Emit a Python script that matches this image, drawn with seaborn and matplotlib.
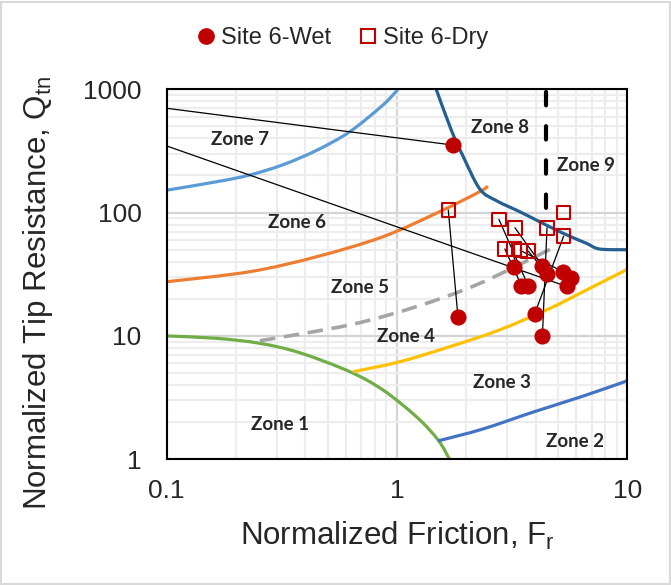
import numpy as np
import pandas as pd
import matplotlib
matplotlib.use("Agg")
import matplotlib.pyplot as plt
from matplotlib.patches import Rectangle, PathPatch
from matplotlib.path import Path
from matplotlib.lines import Line2D
from matplotlib.ticker import FixedLocator, NullFormatter, LogLocator
import seaborn as sns

# ---- measured points (normalized friction Fr [%], normalized tip resistance Qtn) ----
wet_fr = [1.75, 1.84, 3.22, 3.47, 3.71, 4.28, 4.49, 5.26, 5.70, 5.45, 3.96, 4.28]
wet_qtn = [353, 14.2, 36.4, 25.6, 25.6, 36.9, 31.8, 33.2, 29.3, 25.2, 15.1, 10.0]

dry_fr = [0.05, 1.67, 3.22, 2.94, 2.77, 3.25, 3.71, 3.43, 5.29, 0.05, 5.29, 4.48]
dry_qtn = [828, 105, 50.7, 50.7, 88.2, 75.4, 48.8, 49.3, 100.6, 547, 64.3, 75.4]

# wet/dry index pairs joined by a thin line
pair_links = [(0, 0), (1, 1), (2, 2), (3, 3), (4, 4), (5, 5),
              (6, 6), (7, 7), (9, 9), (10, 10), (11, 11)]

# ---- soil behaviour type zone boundaries ----
b7_fr = [0.1, 0.165, 0.23, 0.321, 0.448, 0.624, 0.87, 1.01]
b7_q = [152, 178, 202, 245, 320, 453, 747, 1000]

b6_fr = [0.1, 0.23, 0.448, 0.87, 1.53, 2.29, 2.48]
b6_q = [27.5, 33.2, 43.9, 63.8, 101.7, 148, 164]

b8_fr = [1.48, 1.72, 1.94, 2.29, 2.7, 3.41, 4.16, 5.26, 6.64, 7.58, 10]
b8_q = [1000, 468, 284, 155, 125, 101.7, 84.4, 68, 56.4, 50.7, 50]

b1_fr = [0.1, 0.165, 0.254, 0.379, 0.624, 0.87, 1.215, 1.51, 1.69]
b1_q = [10, 9.56, 8.71, 7.3, 5.13, 3.64, 2.21, 1.43, 1.0]

b3_fr = [0.645, 1.03, 1.69, 2.79, 4.6, 6.42, 10]
b3_q = [5.13, 6.18, 8.17, 11.2, 16.7, 22.8, 34.7]

b2_fr = [1.51, 2.36, 3.89, 6.42, 10]
b2_q = [1.41, 1.76, 2.41, 3.25, 4.33]

b45_fr = [0.254, 0.624, 1.215, 2.29, 4.74]
b45_q = [9.14, 12.3, 17.3, 26.7, 51.6]

b89_fr = [4.45, 4.45]
b89_q = [950, 92]

zone_names = ["Zone 1", "Zone 2", "Zone 3", "Zone 4", "Zone 5",
              "Zone 6", "Zone 7", "Zone 8", "Zone 9"]
zone_xy = [(0.246, 0.093), (0.886, 0.048), (0.727, 0.207), (0.520, 0.333),
           (0.420, 0.465), (0.282, 0.639), (0.159, 0.865), (0.724, 0.898),
           (0.910, 0.795)]

x_ticks = [0.1, 1, 10]
x_tick_labels = ["0.1", "1", "10"]
y_ticks = [1, 10, 100, 1000]
y_tick_labels = ["1", "10", "100", "1000"]

RED = "#C00000"

sns.set_style("white")
plt.rcParams["font.family"] = ["Liberation Sans", "DejaVu Sans"]
plt.rcParams["mathtext.fontset"] = "custom"
plt.rcParams["mathtext.rm"] = "Liberation Sans"

fig = plt.figure(figsize=(6.71, 5.85), dpi=100)
ax = fig.add_axes([0.2484, 0.2149, 0.6865, 0.6325])
ax.set_xscale("log")
ax.set_yscale("log")
ax.set_xlim(0.1, 10)
ax.set_ylim(1, 1000)

# grid
ax.xaxis.set_minor_locator(LogLocator(base=10, subs=np.arange(2, 10)))
ax.yaxis.set_minor_locator(LogLocator(base=10, subs=np.arange(2, 10)))
ax.xaxis.set_minor_formatter(NullFormatter())
ax.yaxis.set_minor_formatter(NullFormatter())
ax.grid(which="minor", color="#EDEDED", lw=1.6, zorder=0)
ax.grid(which="major", color="#D4D4D4", lw=1.6, zorder=0)
ax.set_axisbelow(True)


def smooth_curve(xs, ys, color, lw=2.3, ls="solid", capstyle="butt"):
    """Smoothed line through the given points (Bezier segments in log-log space)."""
    pts = np.column_stack([np.log10(xs), np.log10(ys)])
    n = len(pts)
    verts = [pts[0]]
    codes = [Path.MOVETO]
    for i in range(n - 1):
        p_prev = pts[i - 1] if i > 0 else pts[i]
        p_next = pts[i + 2] if i + 2 < n else pts[i + 1]
        c1 = pts[i] + (pts[i + 1] - p_prev) / 6.0
        c2 = pts[i + 1] - (p_next - pts[i]) / 6.0
        verts += [c1, c2, pts[i + 1]]
        codes += [Path.CURVE4] * 3
    verts = 10 ** np.array(verts)
    patch = PathPatch(Path(verts, codes), fill=False, edgecolor=color, lw=lw,
                      linestyle=ls, capstyle=capstyle, zorder=2)
    ax.add_patch(patch)


smooth_curve(b7_fr, b7_q, "#5B9BD5")
smooth_curve(b6_fr, b6_q, "#ED7D31")
smooth_curve(b8_fr, b8_q, "#255E91")
smooth_curve(b1_fr, b1_q, "#70AD47")
smooth_curve(b3_fr, b3_q, "#FFC000")
smooth_curve(b2_fr, b2_q, "#4472C4")
smooth_curve(b45_fr, b45_q, "#A5A5A5", lw=2.6, ls=(0, (4.3, 2.4)))

# zone 8 / zone 9 divider
sns.lineplot(x=b89_fr, y=b89_q, sort=False, estimator=None, color="black",
             lw=3.0, linestyle=(0, (3.2, 5.0)), dash_capstyle="round", ax=ax)

# wet/dry links
for d, w in pair_links:
    ax.plot([dry_fr[d], wet_fr[w]], [dry_qtn[d], wet_qtn[w]],
            color="black", lw=0.9, zorder=3)

sns.scatterplot(x=dry_fr, y=dry_qtn, marker="s", s=95, facecolor="none",
                edgecolor=RED, linewidth=1.5, ax=ax, zorder=4)
sns.scatterplot(x=wet_fr, y=wet_qtn, marker="o", s=135, color=RED,
                edgecolor=RED, linewidth=0, ax=ax, zorder=5)

for name, (zx, zy) in zip(zone_names, zone_xy):
    ax.text(zx, zy, name, transform=ax.transAxes, ha="center", va="center",
            fontsize=13.5, fontweight="bold", family=["Lato", "DejaVu Sans"],
            zorder=6)

ax.xaxis.set_major_locator(FixedLocator(x_ticks))
ax.yaxis.set_major_locator(FixedLocator(y_ticks))
ax.set_xticklabels(x_tick_labels)
ax.set_yticklabels(y_tick_labels)
ax.tick_params(which="both", length=0)
ax.tick_params(axis="x", labelsize=19, pad=14)
ax.tick_params(axis="y", labelsize=19, pad=18)
ax.set_xlabel("")
ax.set_ylabel("")
for sp in ax.spines.values():
    sp.set_visible(True)
    sp.set_color("black")
    sp.set_linewidth(1.5)

fig.text(397 / 671, 1 - 536 / 585, r"Normalized Friction, F$_\mathregular{r}$",
         ha="center", va="center", fontsize=22.5)
fig.text(38 / 671, 1 - 293 / 585, r"Normalized Tip Resistance, Q$_\mathregular{tn}$",
         ha="center", va="center", fontsize=22.5, rotation=90)

handles = [
    Line2D([], [], marker="o", color=RED, ls="none", markersize=11),
    Line2D([], [], marker="s", markerfacecolor="none", markeredgecolor=RED,
           markeredgewidth=1.5, ls="none", markersize=10),
]
fig.legend(handles, ["Site 6-Wet", "Site 6-Dry"], loc="center",
           bbox_to_anchor=(340 / 671, 1 - 38 / 585), ncol=2, frameon=False,
           fontsize=17, handletextpad=0.0, columnspacing=1.0, handlelength=1.2)

fig.add_artist(Rectangle((0.002, 0.002), 0.996, 0.994, transform=fig.transFigure,
                         fill=False, edgecolor="#D9D9D9", lw=1.5))

fig.savefig("out.png", dpi=100)
